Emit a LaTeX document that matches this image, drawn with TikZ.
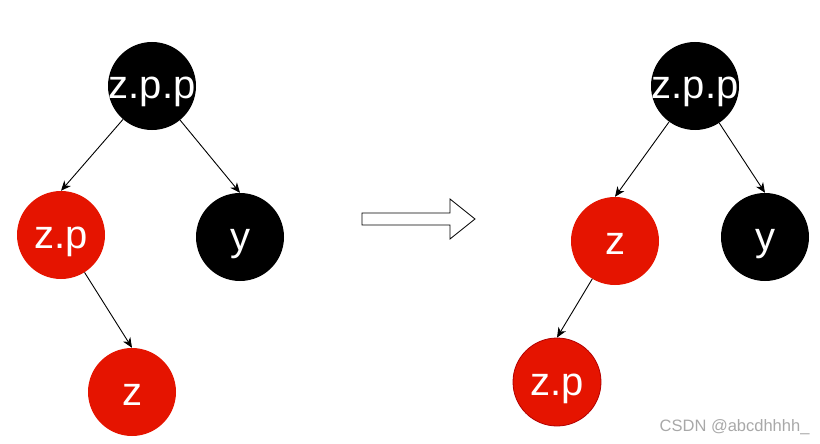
\documentclass[tikz,border=0pt]{standalone}
\usepackage{fontspec}
\setmainfont{Liberation Sans}
\usetikzlibrary{arrows.meta}
\definecolor{TreeRed}{HTML}{E51400}
\definecolor{DarkRed}{HTML}{B20000}
\definecolor{MarkGray}{HTML}{A8A8A8}
\tikzset{%
  tree_node/.style={%
    circle,%
    inner sep=0pt,%
    minimum size=88,%
    text=white,%
    font={\fontsize{40}{44}\selectfont},%
    text height=30pt,%
    text depth=4pt,%
  },
  black_node/.style={%
    tree_node,%
    fill=black,%
  },
  red_node/.style={%
    tree_node,%
    fill=TreeRed,%
  },
  tree_edge/.style={%
    color=black,%
    line width=0.9pt,%
    -{Stealth[length=10pt, width=8.5pt, inset=3pt]},%
  },
  block_arrow/.style={%
    draw=black,%
    line width=0.8pt,%
    line join=miter,%
  },
}

\begin{document}
\begin{tikzpicture}[x=1pt, y=-1pt]
    \useasboundingbox (0, 0) rectangle (820, 444);

    % before
    \node [black_node] (Grand1) at (152, 86) {\makebox[0pt]{z.p.p}};
    \node [red_node] (Parent1) at (61, 235) {\makebox[0pt]{z.p}};
    \node [black_node] (Uncle1) at (240, 237) {y};
    \node [red_node] (Child1) at (132, 392) {z};

    \draw [tree_edge] (Grand1) -- (Parent1.north);
    \draw [tree_edge] (Grand1) -- (Uncle1.north);
    \draw [tree_edge] (Parent1) -- (Child1.north);

    % rotation
    \draw [block_arrow]
      (362, 213) -- (450, 213) -- (450, 199) -- (475, 219)
      -- (450, 239) -- (450, 225) -- (362, 225) -- cycle;

    % after
    \node [black_node] (Grand2) at (695, 86) {\makebox[0pt]{z.p.p}};
    \node [red_node] (Child2) at (615, 241) {z};
    \node [black_node] (Uncle2) at (765, 237) {y};
    \node [red_node, draw=DarkRed, line width=0.8pt] (Parent2) at (557, 382) {\makebox[0pt]{z.p}};

    \draw [tree_edge] (Grand2) -- (Child2.north);
    \draw [tree_edge] (Grand2) -- (Uncle2.north);
    \draw [tree_edge] (Child2) -- (Parent2.north);

    \node [anchor=base east, text=MarkGray, font={\fontsize{16.5}{18}\selectfont}]
      (Mark) at (813, 431) {CSDN @abcdhhhh\_};
  \end{tikzpicture}
\end{document}
